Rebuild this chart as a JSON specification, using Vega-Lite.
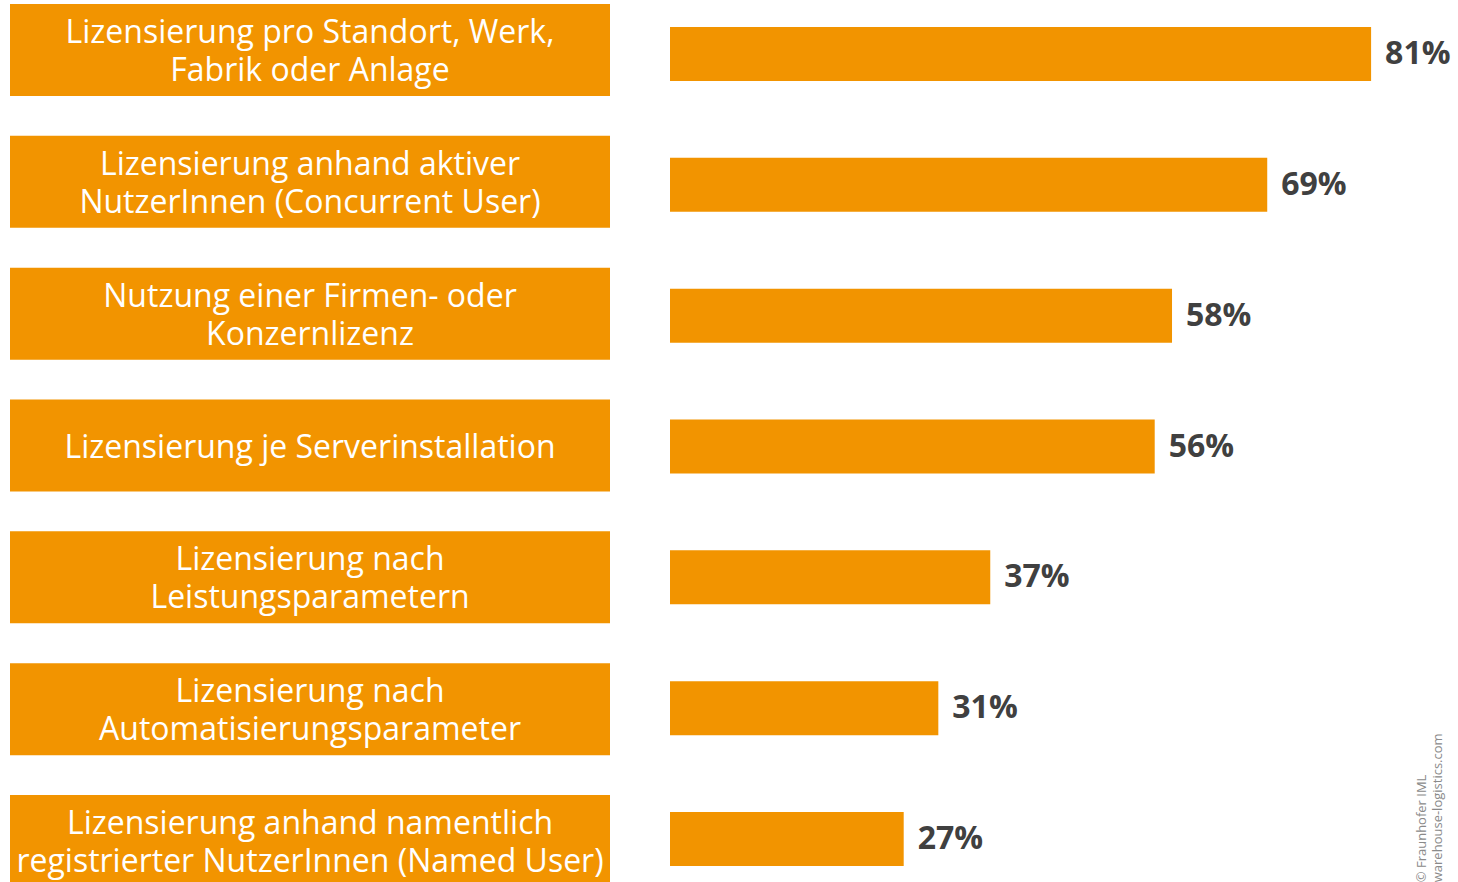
{
  "$schema": "https://vega.github.io/schema/vega-lite/v6.json",
  "padding": {"left": 10, "top": 4, "right": 0, "bottom": 0},
  "background": "white",
  "spacing": 60,
  "config": {"view": {"stroke": null}, "font": "Open Sans"},
  "data": {"values": [
    {"id": "a", "label": ["Lizensierung pro Standort, Werk,", "Fabrik oder Anlage"], "value": 0.81},
    {"id": "b", "label": ["Lizensierung anhand aktiver", "NutzerInnen (Concurrent User)"], "value": 0.69},
    {"id": "c", "label": ["Nutzung einer Firmen- oder", "Konzernlizenz"], "value": 0.58},
    {"id": "d", "label": ["Lizensierung je Serverinstallation"], "value": 0.56},
    {"id": "e", "label": ["Lizensierung nach", "Leistungsparametern"], "value": 0.37},
    {"id": "f", "label": ["Lizensierung nach", "Automatisierungsparameter"], "value": 0.31},
    {"id": "g", "label": ["Lizensierung anhand namentlich", "registrierter NutzerInnen (Named User)"], "value": 0.27}
  ]},
  "hconcat": [
    {
      "width": 600,
      "height": 883,
      "encoding": {
        "y": {"field": "id", "type": "nominal", "sort": null, "axis": null,
              "scale": {"paddingInner": 0.302, "paddingOuter": 0}}
      },
      "layer": [
        {
          "mark": {"type": "bar", "color": "#F29400"},
          "encoding": {
            "x": {"datum": 0, "type": "quantitative", "scale": {"domain": [0, 1]}, "axis": null},
            "x2": {"datum": 1}
          }
        },
        {
          "transform": [{"filter": "length(datum.label) == 2"}],
          "mark": {"type": "text", "color": "white", "fontSize": 32, "lineHeight": 38, "align": "center", "baseline": "middle", "dy": -17},
          "encoding": {
            "x": {"datum": 0.5, "type": "quantitative"},
            "text": {"field": "label"}
          }
        },
        {
          "transform": [{"filter": "length(datum.label) == 1"}],
          "mark": {"type": "text", "color": "white", "fontSize": 32, "lineHeight": 38, "align": "center", "baseline": "middle", "dy": 2},
          "encoding": {
            "x": {"datum": 0.5, "type": "quantitative"},
            "text": {"field": "label"}
          }
        }
      ]
    },
    {
      "width": 779,
      "height": 883,
      "encoding": {
        "y": {"field": "id", "type": "nominal", "sort": null, "axis": null,
              "scale": {"paddingInner": 0.587, "paddingOuter": 0.168, "align": 0.523}}
      },
      "layer": [
        {
          "mark": {"type": "bar", "color": "#F29400"},
          "encoding": {
            "x": {"field": "value", "type": "quantitative", "scale": {"domain": [0, 0.9]}, "axis": null}
          }
        },
        {
          "mark": {"type": "text", "color": "#404040", "fontSize": 32, "fontWeight": "bold", "align": "left", "baseline": "middle", "dx": 14},
          "encoding": {
            "x": {"field": "value", "type": "quantitative"},
            "text": {"field": "value", "type": "quantitative", "format": ".0%"}
          }
        },
        {
          "data": {"values": [{"t": ["© Fraunhofer IML", "warehouse-logistics.com"]}]},
          "mark": {"type": "text", "color": "#8a8a8a", "fontSize": 13, "lineHeight": 16, "angle": 270, "align": "left", "baseline": "top"},
          "encoding": {
            "x": {"datum": 0.862, "type": "quantitative"},
            "y": {"datum": "g", "type": "nominal", "bandPosition": 1.3},
            "text": {"field": "t"}
          }
        }
      ]
    }
  ]
}
